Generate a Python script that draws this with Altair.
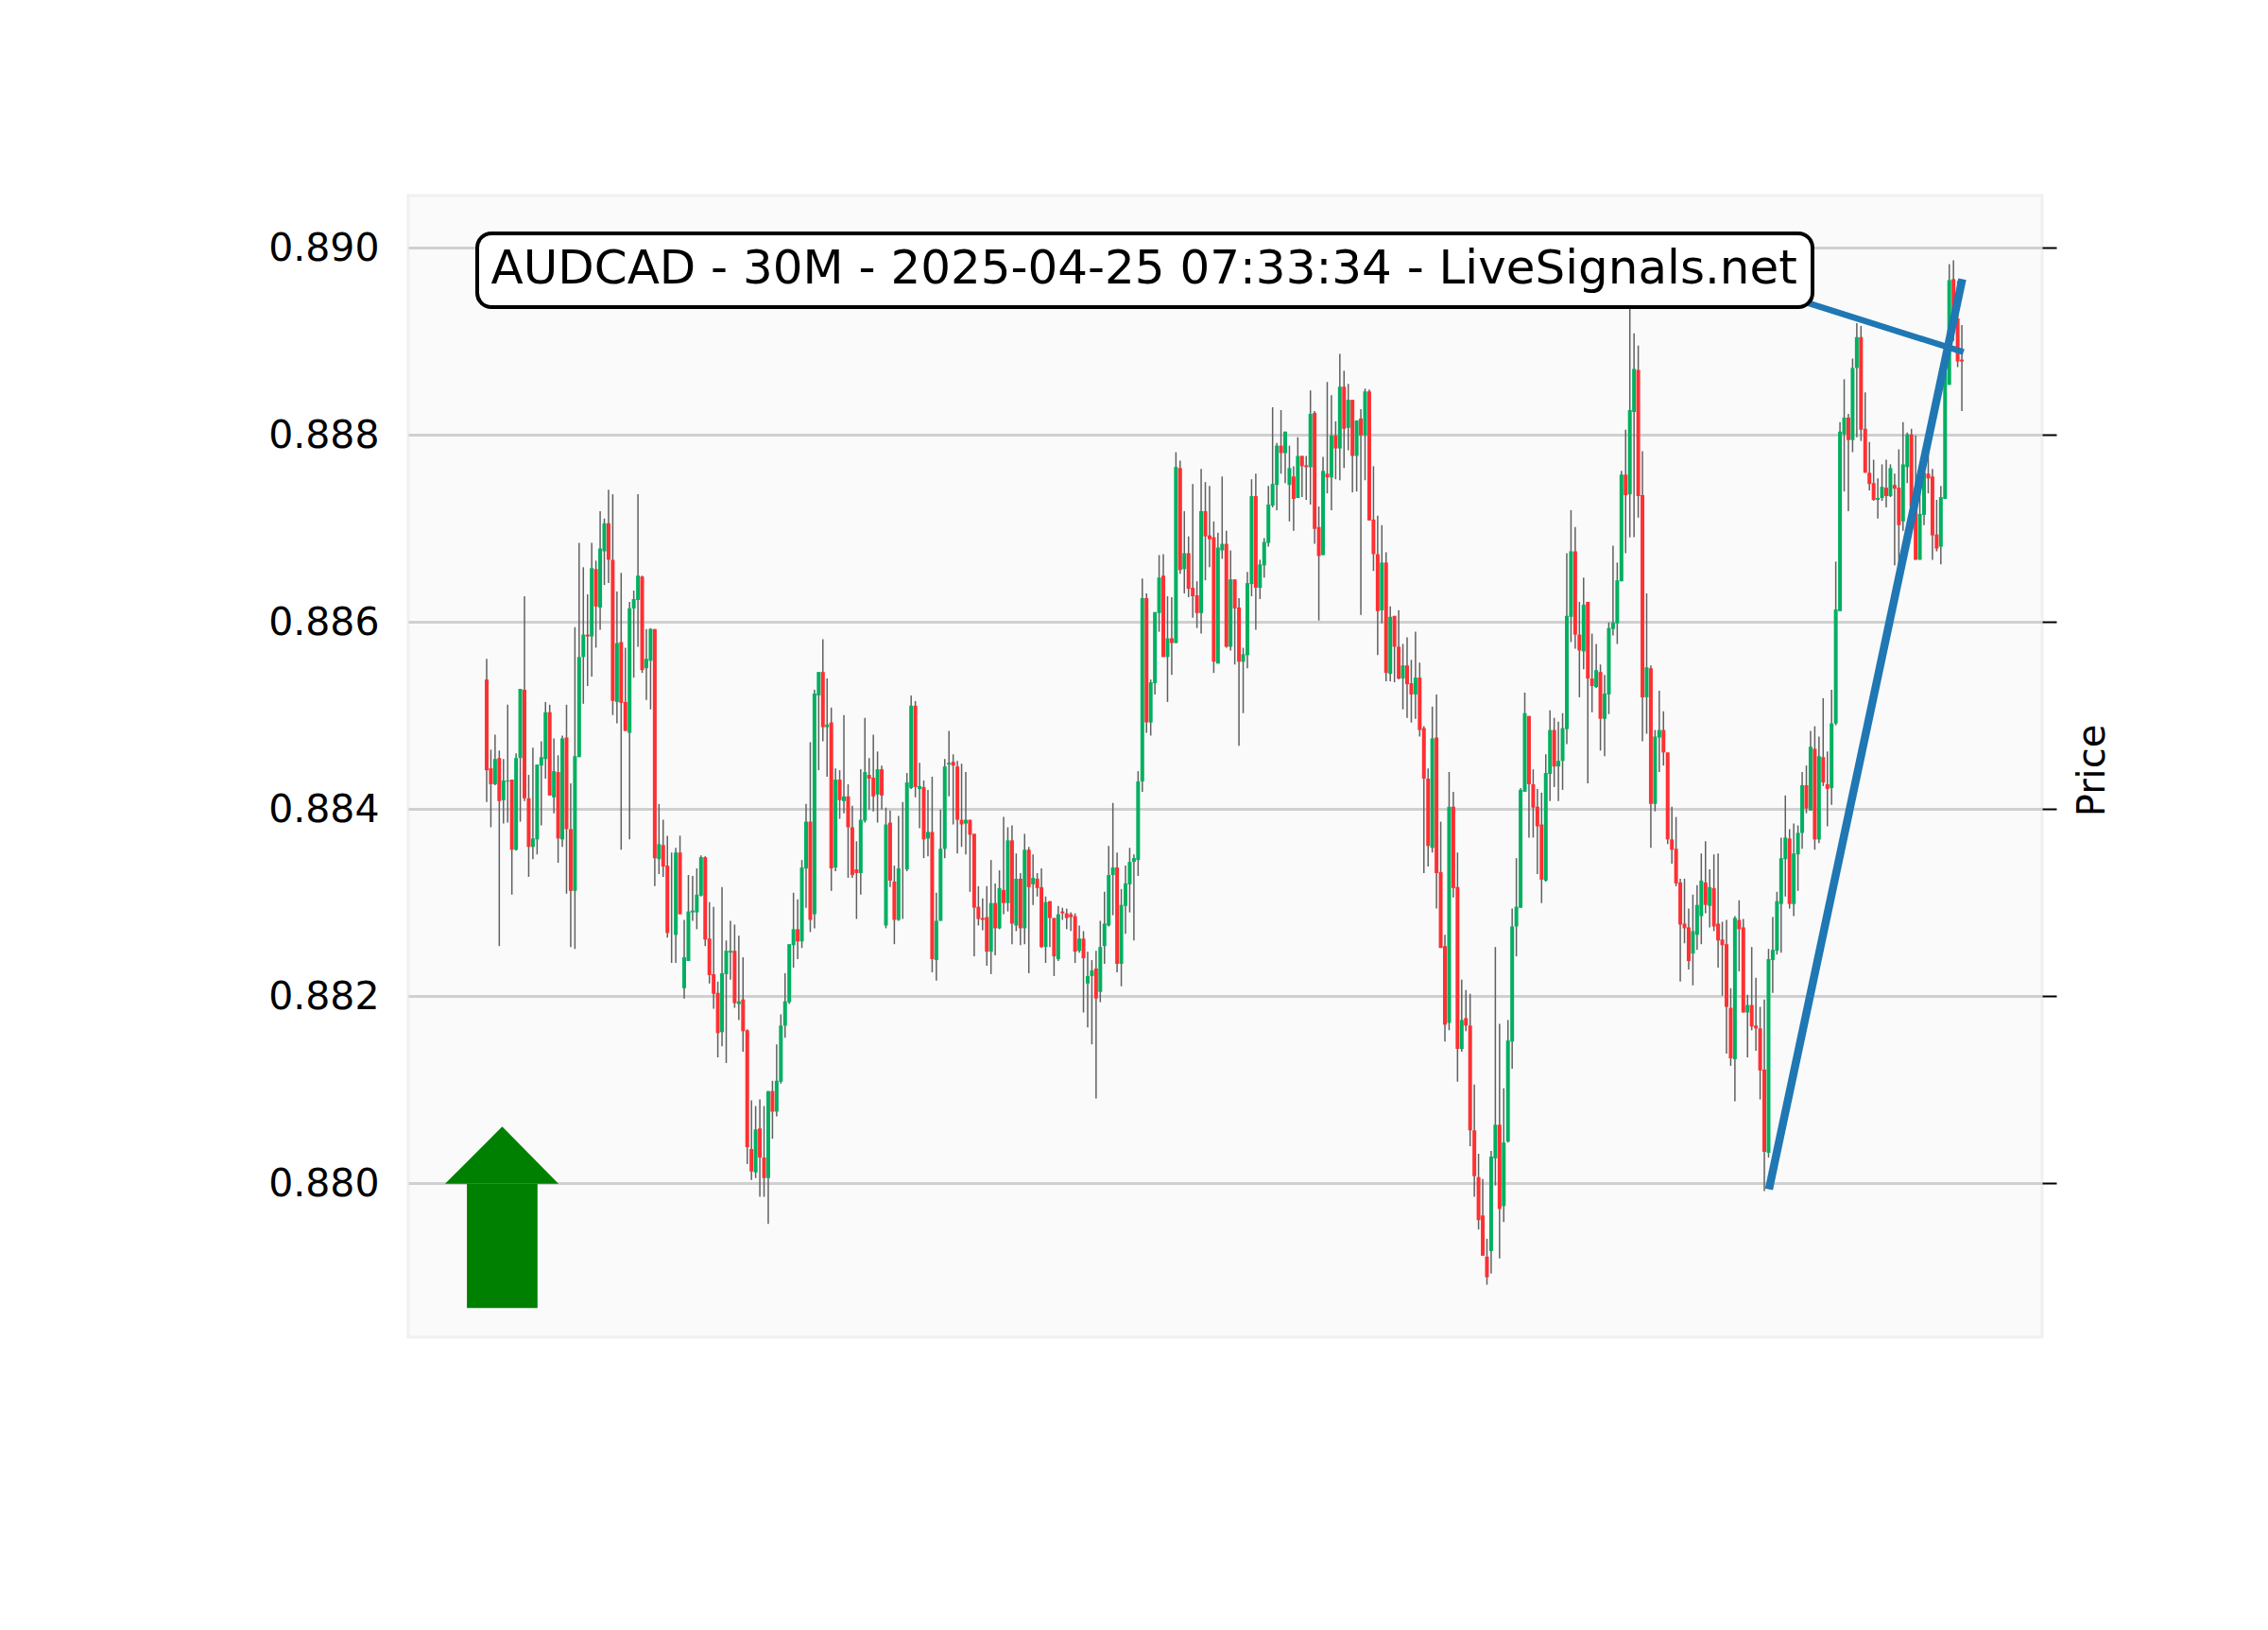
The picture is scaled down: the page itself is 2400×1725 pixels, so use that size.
import altair as alt
import pandas as pd

# Candle prices in units of 0.00001
opens = [
88538,88443,88426,88454,88409,88429,88431,88356,88454,88527,
88411,88359,88367,88446,88453,88503,88412,88439,88367,88476,
88378,88312,88455,88562,88586,88584,88656,88615,88675,88705,
88666,88514,88578,88514,88481,88614,88623,88648,88550,88558,
88592,88346,88361,88339,88300,88265,88353,88208,88237,88289,
88289,88307,88348,88261,88223,88203,88161,88223,88246,88248,
88191,88196,88163,88036,88011,88058,88027,88005,88098,88076,
88108,88168,88193,88254,88271,88258,88336,88386,88287,88521,
88546,88487,88492,88337,88431,88408,88413,88380,88335,88331,
88387,88436,88433,88415,88442,88275,88385,88322,88281,88340,
88335,88422,88510,88421,88423,88368,88375,88238,88280,88357,
88447,88450,88445,88388,88384,88388,88373,88295,88283,88284,
88247,88299,88272,88313,88299,88366,88275,88325,88272,88356,
88319,88325,88316,88252,88301,88283,88239,88290,88288,88287,
88285,88248,88261,88213,88221,88229,88204,88253,88275,88329,
88337,88234,88296,88319,88343,88345,88429,88625,88492,88534,
88609,88649,88562,88582,88577,88764,88656,88673,88636,88628,
88609,88718,88692,88690,88555,88676,88683,88573,88645,88615,
88557,88564,88640,88734,88636,88660,88684,88724,88746,88788,
88780,88746,88755,88732,88777,88767,88765,88823,88701,88671,
88758,88754,88799,88785,88851,88807,88837,88777,88817,88799,
88846,88709,88672,88612,88663,88544,88606,88573,88539,88553,
88534,88522,88540,88486,88432,88358,88476,88332,88253,88171,
88402,88316,88143,88176,88168,88056,88006,87965,87921,87927,
88026,88062,87975,88044,88151,88274,88294,88418,88499,88426,
88402,88383,88323,88437,88484,88445,88451,88485,88605,88675,
88586,88568,88621,88539,88530,88546,88496,88522,88592,88598,
88643,88757,88736,88824,88869,88735,88519,88550,88405,88476,
88484,88460,88367,88357,88321,88277,88273,88245,88265,88285,
88321,88296,88315,88277,88260,88255,88187,88132,88281,88273,
88182,88190,88168,88165,88121,88032,88238,88248,88298,88346,
88368,88298,88351,88374,88425,88398,88464,88367,88455,88426,
88422,88491,88611,88800,88818,88794,88871,88904,88806,88759,
88748,88730,88732,88743,88734,88746,88743,88707,88765,88800,
88725,88666,88714,88758,88755,88693,88680,88731,88853,88966,
88924,88880]
closes = [
88441,88426,88453,88408,88430,88430,88356,88454,88528,88411,
88359,88368,88447,88455,88503,88414,88440,88368,88475,88378,
88312,88456,88562,88586,88584,88657,88616,88678,88705,88666,
88515,88577,88513,88483,88614,88624,88649,88548,88560,88592,
88347,88362,88338,88267,88300,88353,88287,88241,88290,88291,
88308,88348,88260,88222,88202,88160,88224,88248,88248,88192,
88194,88162,88038,88012,88057,88027,88005,88098,88076,88109,
88168,88194,88255,88271,88258,88337,88386,88281,88523,88546,
88487,88490,88336,88431,88409,88413,88380,88329,88331,88388,
88439,88432,88413,88442,88414,88383,88323,88281,88336,88340,
88428,88510,88423,88424,88367,88375,88239,88280,88357,88445,
88449,88446,88388,88383,88388,88372,88294,88282,88281,88247,
88299,88272,88315,88299,88366,88277,88325,88272,88356,88316,
88326,88315,88252,88300,88283,88242,88287,88288,88283,88284,
88247,88261,88240,88221,88227,88197,88252,88277,88329,88337,
88234,88297,88320,88343,88347,88429,88625,88492,88535,88610,
88647,88562,88582,88577,88765,88655,88673,88635,88627,88609,
88718,88691,88688,88557,88679,88683,88573,88645,88614,88557,
88565,88641,88734,88636,88661,88685,88725,88747,88788,88780,
88803,88764,88731,88777,88766,88765,88822,88699,88670,88761,
88754,88799,88785,88851,88806,88837,88777,88815,88799,88846,
88708,88672,88611,88663,88545,88605,88573,88539,88553,88533,
88522,88540,88484,88432,88360,88475,88331,88251,88169,88402,
88315,88143,88174,88168,88056,88007,87960,87922,87899,88028,
88062,87972,88043,88152,88274,88295,88420,88502,88426,88401,
88381,88324,88438,88484,88445,88451,88486,88606,88675,88586,
88569,88618,88539,88531,88548,88496,88523,88593,88599,88644,
88757,88735,88826,88870,88734,88519,88551,88405,88477,88484,
88460,88367,88356,88320,88276,88272,88237,88269,88297,88323,
88297,88316,88274,88259,88254,88188,88133,88283,88271,88182,
88190,88167,88165,88120,88033,88239,88249,88301,88347,88369,
88298,88352,88374,88425,88400,88466,88367,88456,88428,88421,
88491,88613,88803,88818,88794,88871,88904,88805,88759,88747,
88730,88732,88744,88734,88764,88742,88703,88768,88800,88723,
88666,88715,88759,88753,88692,88678,88733,88867,88965,88922,
88878,88878]
highs = [
88560,88463,88479,88462,88453,88511,88431,88459,88528,88627,
88436,88465,88447,88472,88514,88511,88475,88457,88478,88511,
88427,88594,88684,88658,88629,88684,88665,88718,88710,88741,
88736,88632,88652,88572,88621,88633,88736,88649,88592,88593,
88592,88405,88388,88371,88353,88358,88371,88281,88329,88328,
88336,88350,88349,88300,88295,88215,88316,88259,88280,88276,
88264,88241,88164,88088,88082,88089,88082,88098,88109,88148,
88180,88224,88255,88310,88303,88345,88405,88471,88527,88546,
88581,88539,88508,88443,88441,88500,88426,88403,88365,88442,
88497,88454,88479,88461,88446,88401,88398,88339,88392,88407,
88438,88521,88515,88449,88430,88420,88434,88310,88399,88453,
88483,88458,88451,88448,88439,88388,88373,88317,88304,88317,
88345,88320,88334,88391,88380,88382,88352,88331,88373,88359,
88351,88331,88336,88306,88301,88283,88296,88294,88293,88289,
88288,88275,88269,88247,88238,88248,88280,88311,88360,88406,
88353,88314,88339,88358,88351,88440,88646,88630,88538,88610,
88671,88672,88627,88626,88781,88772,88718,88691,88747,88643,
88763,88749,88745,88707,88695,88755,88697,88676,88645,88625,
88572,88653,88752,88758,88666,88689,88745,88829,88791,88826,
88803,88788,88766,88797,88777,88777,88847,88825,88723,88776,
88856,88842,88814,88886,88868,88854,88837,88815,88827,88849,
88848,88766,88713,88703,88674,88616,88606,88612,88576,88583,
88559,88589,88556,88488,88443,88509,88522,88386,88265,88439,
88418,88353,88217,88206,88202,88105,88031,88004,87940,88034,
88252,88170,88101,88174,88293,88347,88422,88524,88499,88442,
88421,88417,88458,88505,88497,88493,88502,88673,88719,88701,
88621,88647,88621,88587,88576,88554,88543,88599,88681,88663,
88761,88805,88935,88908,88895,88782,88630,88553,88484,88526,
88504,88460,88402,88391,88325,88325,88293,88308,88318,88352,
88365,88335,88351,88352,88279,88281,88208,88285,88302,88282,
88201,88252,88219,88188,88196,88250,88284,88311,88369,88414,
88378,88384,88382,88439,88446,88483,88488,88477,88518,88461,
88527,88664,88813,88859,88822,88881,88919,88916,88845,88792,
88773,88753,88768,88773,88768,88758,88784,88813,88802,88806,
88799,88766,88779,88782,88763,88730,88745,88873,88982,88986,
88964,88917]
lows = [
88407,88380,88425,88253,88384,88385,88308,88355,88386,88408,
88327,88346,88351,88382,88432,88414,88395,88342,88359,88309,
88252,88250,88455,88512,88531,88541,88572,88591,88639,88641,
88500,88491,88356,88483,88367,88540,88573,88545,88516,88506,
88317,88330,88327,88262,88235,88235,88287,88197,88237,88280,
88271,88306,88253,88213,88186,88134,88146,88128,88217,88187,
88174,88140,88020,88003,88005,87985,87985,87956,88047,88071,
88106,88155,88191,88230,88239,88251,88294,88268,88272,88441,
88472,88434,88312,88333,88389,88395,88326,88326,88282,88308,
88385,88399,88397,88385,88399,88272,88316,88255,88280,88282,
88333,88421,88412,88379,88347,88349,88225,88216,88280,88347,
88413,88383,88352,88359,88351,88311,88242,88275,88270,88232,
88223,88243,88271,88287,88290,88255,88269,88254,88255,88224,
88297,88306,88251,88235,88252,88221,88237,88281,88271,88269,
88235,88246,88182,88166,88148,88090,88193,88234,88274,88286,
88225,88210,88266,88289,88259,88328,88418,88481,88478,88522,
88589,88562,88514,88543,88577,88651,88630,88626,88604,88593,
88587,88644,88658,88545,88555,88667,88572,88569,88554,88467,
88502,88550,88627,88591,88624,88647,88680,88722,88719,88758,
88748,88707,88697,88732,88733,88730,88725,88683,88601,88671,
88737,88719,88752,88751,88764,88783,88738,88739,88607,88751,
88708,88654,88564,88598,88536,88536,88535,88538,88506,88497,
88492,88496,88477,88331,88338,88353,88293,88251,88151,88163,
88305,88108,88140,88162,88039,87985,87950,87922,87891,87903,
87997,87919,87958,88043,88122,88242,88294,88418,88369,88369,
88330,88299,88322,88408,88423,88408,88420,88469,88578,88571,
88519,88549,88427,88503,88529,88462,88456,88501,88585,88576,
88643,88673,88690,88690,88711,88472,88480,88358,88397,88439,
88446,88362,88341,88317,88215,88256,88228,88211,88249,88255,
88288,88273,88269,88230,88200,88138,88125,88087,88226,88182,
88134,88163,88141,88089,87991,88027,88203,88244,88246,88306,
88293,88285,88312,88357,88395,88398,88356,88363,88424,88381,
88404,88489,88611,88739,88718,88781,88797,88793,88759,88740,
88729,88710,88729,88722,88733,88660,88660,88697,88748,88705,
88666,88666,88703,88737,88666,88675,88661,88731,88853,88900,
88872,88825]

y_ticks = [0.880, 0.882, 0.884, 0.886, 0.888, 0.890]
title_text = "AUDCAD - 30M - 2025-04-25 07:33:34 - LiveSignals.net"

# annotation geometry in data units
trend_x, trend_y = [305.1, 351.1], [0.87993, 0.88966]
note_x, note_y = [312.6, 351.4], [0.88943, 0.88888]
head_x, head_top, head_base = [-9.9, 3.7, 17.1], [0.87999, 0.88060, 0.87999], 0.87999
shaft_x, shaft_top, shaft_bottom = [-4.7, 12.1], 0.87999, 0.87866

FONT = "DejaVu Sans"
UP, DOWN, WICK = "#00b060", "#fe3032", "#606060"
W, H = 1729, 1208

df = pd.DataFrame({
    "i": range(len(opens)),
    "open": [v / 1e5 for v in opens],
    "close": [v / 1e5 for v in closes],
    "high": [v / 1e5 for v in highs],
    "low": [v / 1e5 for v in lows],
})
up = df[df["close"] > df["open"]]
down = df[df["close"] < df["open"]]

xs = alt.Scale(domain=[-18.66, 370.1], zero=False, nice=False, padding=0)
ys = alt.Scale(domain=[0.87835, 0.890553], zero=False, nice=False, padding=0)
X = alt.X("i:Q", scale=xs, axis=None)
Y0 = alt.Y("y:Q", scale=ys, axis=None)

wicks = alt.Chart(df).mark_rule(color=WICK, strokeWidth=1.5).encode(
    x=X,
    y=alt.Y("low:Q", scale=ys, axis=alt.Axis(
        values=y_ticks, format=".3f", title=None, domain=False, ticks=False, tickSize=0,
        labelFontSize=41, labelFont=FONT, labelColor="#000000", labelPadding=31, labelOffset=1.5,
        grid=True, gridColor="#d0d0d0", gridWidth=3, labelBaseline="middle")),
    y2="high:Q",
)

def bodies(frame, color):
    return alt.Chart(frame).mark_bar(size=4, color=color).encode(
        x=X,
        y=alt.Y("open:Q", scale=ys, axis=None),
        y2="close:Q",
    )

def seg(xv, yv, width):
    return alt.Chart(pd.DataFrame({"i": xv, "y": yv})).mark_line(
        color="#1f77b4", strokeWidth=width, strokeCap="butt", clip=False
    ).encode(x=X, y=Y0)

head = alt.Chart(pd.DataFrame({"i": head_x, "y": head_top, "y2": [head_base] * 3})).mark_area(
    color="#008000", opacity=1
).encode(x=X, y=Y0, y2="y2:Q")
shaft = alt.Chart(pd.DataFrame({"i": shaft_x, "y": [shaft_top] * 2, "y2": [shaft_bottom] * 2})).mark_area(
    color="#008000", opacity=1
).encode(x=X, y=Y0, y2="y2:Q")

one = pd.DataFrame({"a": [0]})
box = alt.Chart(one).mark_rect(
    fill="#ffffff", stroke="#000000", strokeWidth=4, cornerRadius=15
).encode(x=alt.value(73), x2=alt.value(1486), y=alt.value(40), y2=alt.value(118))
label = alt.Chart(one).mark_text(
    text=title_text, font=FONT, fontSize=49.95, color="#000000", align="left", baseline="alphabetic"
).encode(x=alt.value(87.6), y=alt.value(93))

right = alt.Chart(pd.DataFrame({"y": y_ticks})).mark_rule(opacity=0).encode(
    y=alt.Y("y:Q", scale=ys, axis=alt.Axis(
        orient="right", values=y_ticks, labels=False, domain=False, grid=False,
        ticks=True, tickSize=15, tickWidth=2, tickColor="#000000",
        title="Price", titleFont=FONT, titleFontSize=40, titleFontWeight="normal",
        titleColor="#000000", titleAngle=270, titleBaseline="alphabetic",
        titleAlign="center", titleX=65, titleY=608)),
)

chart = alt.layer(
    wicks, bodies(up, UP), bodies(down, DOWN),
    shaft, head,
    seg(note_x, note_y, 6.5), seg(trend_x, trend_y, 8.5),
    box, label, right,
).resolve_scale(y="independent").properties(
    width=W, height=H,
    autosize=alt.AutoSizeParams(type="none"),
    padding={"left": 424, "top": 199, "right": 231, "bottom": 300},
    background="#ffffff",
).configure_view(fill="#fafafa", stroke="#f0f0f0", strokeWidth=3)

chart.save("out.html", embed_options={"renderer": "svg", "actions": False})
